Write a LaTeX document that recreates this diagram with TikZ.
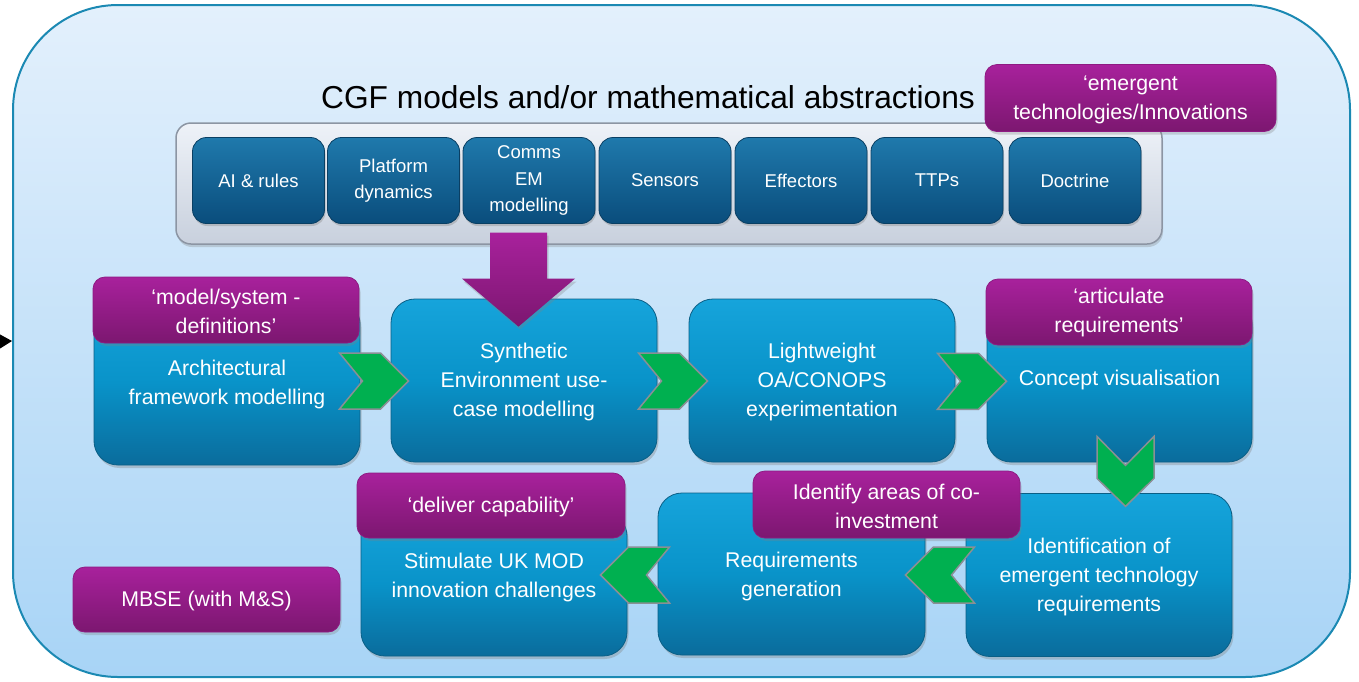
\documentclass[tikz,border=0pt]{standalone}
\usepackage{fontspec}
\setmainfont{Liberation Sans}
\usetikzlibrary{shadows,calc,arrows.meta}
\definecolor{frameline}{HTML}{1B89B3}
\definecolor{frametop}{HTML}{E3F0FC}
\definecolor{framebot}{HTML}{A8D4F6}
\definecolor{graytop}{HTML}{EEF2F8}
\definecolor{graybot}{HTML}{C8D0DD}
\definecolor{grayline}{HTML}{8C95A3}
\definecolor{dkbtop}{HTML}{1F79AC}
\definecolor{dkbbot}{HTML}{0A4D7C}
\definecolor{dkbline}{HTML}{0A3F63}
\definecolor{bbtop}{HTML}{16A4DB}
\definecolor{bbmid}{HTML}{0993C9}
\definecolor{bbbot}{HTML}{0A6C9C}
\definecolor{bbline}{HTML}{0A5F86}
\definecolor{ptop}{HTML}{A8219C}
\definecolor{pbot}{HTML}{7C1770}
\definecolor{pline}{HTML}{8E1A82}
\definecolor{chevgreen}{HTML}{00B050}
\definecolor{chevline}{HTML}{8A8F94}
\newcommand\bxfont{\fontsize{21.3}{29}\selectfont}
\newcommand\smfont{\fontsize{18.5}{26.5}\selectfont}
\newcommand\ttlfont{\fontsize{31.7}{36}\selectfont}
\tikzset{
  frame/.style={draw=frameline, line width=2pt, rounded corners=105pt, top color=frametop, bottom color=framebot, inner sep=0pt},
  tray/.style={draw=grayline, line width=1.5pt, rounded corners=15pt, top color=graytop, bottom color=graybot, inner sep=0pt,
    drop shadow={shadow xshift=1pt, shadow yshift=-3pt, opacity=0.3}},
  topbox/.style={draw=dkbline, line width=0.8pt, rounded corners=14pt, top color=dkbtop, bottom color=dkbbot,
    minimum width=132pt, minimum height=86pt, inner sep=0pt, text=white, font=\smfont, align=center,
    drop shadow={shadow xshift=1pt, shadow yshift=-2.5pt, opacity=0.35}},
  bigbox/.style={draw=bbline, line width=0.8pt, rounded corners=24pt, top color=bbtop, bottom color=bbbot, middle color=bbmid,
    inner sep=0pt, text=white, font=\bxfont, align=center,
    drop shadow={shadow xshift=1.5pt, shadow yshift=-3pt, opacity=0.35}},
  btext/.style={text=white, font=\bxfont, align=center, inner sep=0pt},
  plabel/.style={draw=pline, line width=0.8pt, rounded corners=12pt, top color=ptop, bottom color=pbot,
    inner sep=0pt, text=white, font=\bxfont, align=center,
    drop shadow={shadow xshift=1.5pt, shadow yshift=-3pt, opacity=0.3}},
  chev/.style={fill=chevgreen, draw=chevline, line width=1.5pt, line join=miter},
  chevR/.pic={\path[chev] (-34,-28) -- (7,-28) -- (35,0) -- (7,28) -- (-34,28) -- (-11,0) -- cycle;},
  chevL/.pic={\path[chev] (34,-28) -- (-7,-28) -- (-35,0) -- (-7,28) -- (34,28) -- (11,0) -- cycle;},
  chevD/.pic={\path[chev] (-28.5,-35) -- (0,-6) -- (28.5,-35) -- (28.5,7) -- (0,35) -- (-28.5,7) -- cycle;}
}
\begin{document}
\begin{tikzpicture}[x=1pt,y=-1pt]
\useasboundingbox (0,0) rectangle (1359,681);
\fill[white] (0,0) rectangle (1359,681);
% outer frame
\node[frame, minimum width=1337pt, minimum height=672pt] (outer) at (681.5,341) {};
\coordinate (src) at (-20,342);
\draw[line width=1pt, -{Triangle[length=13pt,width=15pt]}] (src) -- (outer.west);
% title
\node[font=\ttlfont, inner sep=0pt] (title) at (648,97) {CGF models and/or mathematical abstractions};
% tray of CGF components
\node[tray, minimum width=986pt, minimum height=121pt] (tray) at (669,183.5) {};
\node[topbox] (ai) at (258.5,180.5) {AI \& rules};
\node[topbox] (plat) at (393.5,180.5) {Platform\\dynamics};
\node[topbox] (comms) at (529,180.5) {Comms\\EM\\modelling};
\node[topbox] (sens) at (665,180.5) {Sensors};
\node[topbox] (eff) at (801,180.5) {Effectors};
\node[topbox] (ttp) at (937,180.5) {TTPs};
\node[topbox] (doc) at (1075,180.5) {Doctrine};
\node[plabel, minimum width=291pt, minimum height=67pt] (pemerg) at (1130.5,98) {};
\node[btext] (pemergtxt) at ($(pemerg.center)+(0,1.5)$) {‘emergent\\technologies/Innovations};
% big process boxes
\node[bigbox, minimum width=266pt, minimum height=165pt] (arch) at (227,382.5) {};
\node[btext] (archtxt) at ($(arch.center)+(0,1.5)$) {Architectural\\framework modelling};
\node[bigbox, minimum width=266pt, minimum height=163pt] (synth) at (524,380.5) {};
\node[btext] (synthtxt) at ($(synth.center)+(0,1.5)$) {Synthetic\\Environment use-\\case modelling};
\node[bigbox, minimum width=266pt, minimum height=163pt] (light) at (822,380.5) {};
\node[btext] (lighttxt) at ($(light.center)+(0,1.5)$) {Lightweight\\OA/CONOPS\\experimentation};
\node[bigbox, minimum width=265pt, minimum height=162pt] (concept) at (1119.5,381) {};
\node[btext] (concepttxt) at ($(concept.center)+(0,-1)$) {Concept visualisation};
\node[bigbox, minimum width=266pt, minimum height=163pt] (ident) at (1099,575) {};
\node[btext] (identtxt) at ($(ident.center)+(0,1.5)$) {Identification of\\emergent technology\\requirements};
\node[bigbox, minimum width=267pt, minimum height=162pt] (req) at (791.5,574) {};
\node[btext] (reqtxt) at ($(req.center)+(0,2.5)$) {Requirements\\generation};
\node[bigbox, minimum width=266pt, minimum height=144pt] (stim) at (494,584) {};
\node[btext] (stimtxt) at ($(stim.center)+(0,-7)$) {Stimulate UK MOD\\innovation challenges};
% purple labels
\node[plabel, minimum width=266pt, minimum height=66pt] (pmodel) at (226,310) {};
\node[btext] (pmodeltxt) at ($(pmodel.center)+(0,1.5)$) {‘model/system -\\definitions’};
\node[plabel, minimum width=266pt, minimum height=66pt] (partic) at (1119,312) {};
\node[btext] (partictxt) at ($(partic.center)+(0,0)$) {‘articulate\\requirements’};
\node[plabel, minimum width=268pt, minimum height=65pt] (pdeliv) at (491,505.5) {};
\node[btext] (pdelivtxt) at ($(pdeliv.center)+(0,1)$) {‘deliver capability’};
\node[plabel, minimum width=267pt, minimum height=67pt] (pcoinv) at (886.5,504.5) {};
\node[btext] (pcoinvtxt) at ($(pcoinv.center)+(0,1.5)$) {Identify areas of co-\\investment};
\node[plabel, minimum width=267pt, minimum height=65pt] (pmbse) at (206.5,599.5) {};
\node[btext] (pmbsetxt) at ($(pmbse.center)+(0,1)$) {MBSE (with M\&S)};
% purple down arrow from CGF tray into Synthetic Environment
\path[top color=ptop, bottom color=pbot, drop shadow={shadow xshift=1.5pt, shadow yshift=-3pt, opacity=0.3}]
  ($(synth.north)+(-34,-66)$) -- ++(57,0) -- ++(0,46) -- ++(28,0) -- ($(synth.north)+(-5.5,28)$)
  -- ($(synth.north)+(-62,-20)$) -- ++(28,0) -- cycle;
% green chevrons between process steps
\pic at ($(arch.east)!0.5!(synth.west)+(-2,-0.5)$) {chevR};
\pic at ($(synth.east)!0.5!(light.west)+(-0.5,0.5)$) {chevR};
\pic at ($(light.east)!0.5!(concept.west)+(0.5,0.5)$) {chevR};
\pic at ($(concept.south)+(6,9)$) {chevD};
\pic at ($(ident.west)!0.5!(req.east)+(-5,0.5)$) {chevL};
\pic at ($(req.west)!0.5!(stim.east)+(-7,-4)$) {chevL};
\end{tikzpicture}
\end{document}
